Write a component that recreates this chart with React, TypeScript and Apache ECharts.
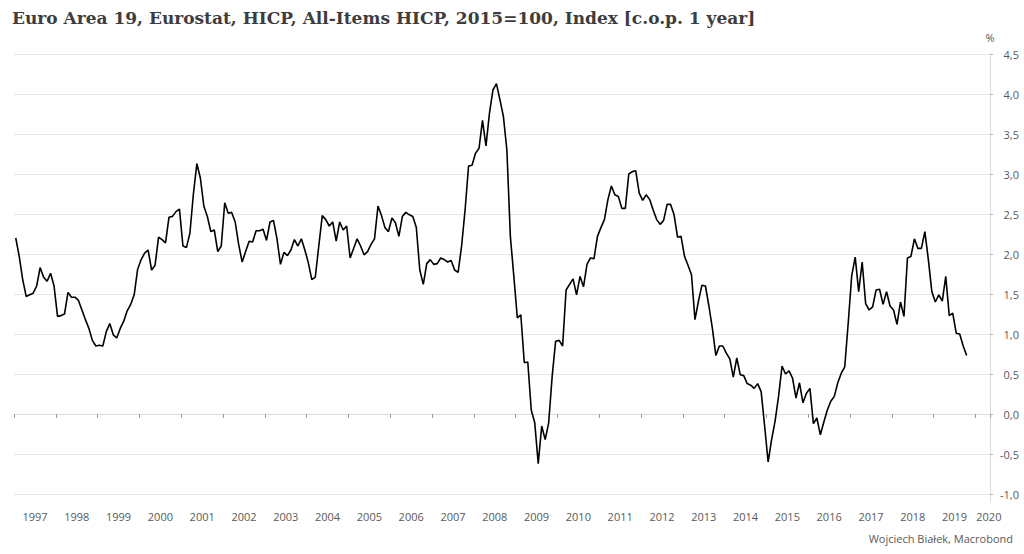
import React, { useEffect, useRef } from "react";
import * as echarts from "echarts";

const TITLE = "Euro Area 19, Eurostat, HICP, All-Items HICP, 2015=100, Index [c.o.p. 1 year]";
const FOOTER = "Wojciech Białek, Macrobond";
const START_YEAR = 1997;

const v1997 = [2.20, 1.97, 1.68, 1.47, 1.49, 1.51, 1.60, 1.83, 1.71, 1.66, 1.76, 1.60];
const v1998 = [1.22, 1.23, 1.25, 1.52, 1.46, 1.46, 1.42, 1.30, 1.18, 1.07, 0.92, 0.85];
const v1999 = [0.86, 0.85, 1.03, 1.13, 0.99, 0.95, 1.07, 1.16, 1.29, 1.37, 1.49, 1.81];
const v2000 = [1.93, 2.01, 2.05, 1.80, 1.86, 2.21, 2.18, 2.14, 2.46, 2.47, 2.53, 2.56];
const v2001 = [2.10, 2.08, 2.26, 2.75, 3.13, 2.95, 2.60, 2.47, 2.28, 2.30, 2.03, 2.10];
const v2002 = [2.64, 2.51, 2.52, 2.40, 2.12, 1.90, 2.03, 2.16, 2.15, 2.29, 2.29, 2.31];
const v2003 = [2.17, 2.40, 2.42, 2.19, 1.87, 2.02, 1.98, 2.05, 2.18, 2.10, 2.19, 2.05];
const v2004 = [1.89, 1.68, 1.71, 2.10, 2.48, 2.43, 2.35, 2.40, 2.16, 2.40, 2.30, 2.35];
const v2005 = [1.95, 2.07, 2.19, 2.10, 1.99, 2.03, 2.12, 2.19, 2.60, 2.48, 2.33, 2.28];
const v2006 = [2.45, 2.39, 2.22, 2.47, 2.52, 2.49, 2.47, 2.33, 1.80, 1.62, 1.88, 1.93];
const v2007 = [1.87, 1.88, 1.95, 1.93, 1.90, 1.92, 1.80, 1.77, 2.10, 2.55, 3.10, 3.11];
const v2008 = [3.26, 3.32, 3.67, 3.35, 3.76, 4.05, 4.13, 3.93, 3.72, 3.30, 2.22, 1.72];
const v2009 = [1.20, 1.24, 0.64, 0.65, 0.05, -0.11, -0.62, -0.15, -0.32, -0.11, 0.47, 0.91];
const v2010 = [0.92, 0.85, 1.55, 1.62, 1.69, 1.49, 1.72, 1.59, 1.87, 1.95, 1.94, 2.22];
const v2011 = [2.33, 2.43, 2.68, 2.85, 2.74, 2.72, 2.57, 2.57, 3.00, 3.03, 3.04, 2.76];
const v2012 = [2.67, 2.74, 2.68, 2.55, 2.43, 2.37, 2.42, 2.62, 2.62, 2.49, 2.21, 2.22];
const v2013 = [1.97, 1.86, 1.74, 1.18, 1.41, 1.61, 1.60, 1.35, 1.07, 0.73, 0.85, 0.85];
const v2014 = [0.76, 0.69, 0.46, 0.70, 0.49, 0.48, 0.38, 0.36, 0.32, 0.38, 0.28, -0.15];
const v2015 = [-0.60, -0.32, -0.09, 0.22, 0.60, 0.50, 0.54, 0.45, 0.20, 0.39, 0.14, 0.26];
const v2016 = [0.32, -0.12, -0.05, -0.26, -0.10, 0.05, 0.16, 0.22, 0.39, 0.51, 0.59, 1.14];
const v2017 = [1.73, 1.96, 1.53, 1.90, 1.38, 1.30, 1.34, 1.55, 1.56, 1.37, 1.53, 1.35];
const v2018 = [1.30, 1.12, 1.40, 1.22, 1.95, 1.97, 2.19, 2.07, 2.07, 2.28, 1.93, 1.53];
const v2019 = [1.40, 1.49, 1.41, 1.72, 1.23, 1.26, 1.01, 1.00, 0.85, 0.73];

const monthly = [
  ...v1997, ...v1998, ...v1999, ...v2000, ...v2001, ...v2002, ...v2003, ...v2004,
  ...v2005, ...v2006, ...v2007, ...v2008, ...v2009, ...v2010, ...v2011, ...v2012,
  ...v2013, ...v2014, ...v2015, ...v2016, ...v2017, ...v2018, ...v2019,
];

const LABEL_FONT = "'Open Sans', 'Noto Sans', sans-serif";

export default function App() {
  const ref = useRef<HTMLDivElement>(null);
  useEffect(() => {
    if (!ref.current) return;
    const chart = echarts.init(ref.current, null, { renderer: "svg" });
    const data = monthly.map((v, i) => [START_YEAR + (i + 0.5) / 12, v]);
    chart.setOption({
      animation: false,
      backgroundColor: "#ffffff",
      title: {
        text: TITLE,
        left: 7,
        top: 4,
        textStyle: {
          fontFamily: "'DejaVu Serif', 'Liberation Serif', serif",
          fontWeight: "bold",
          fontSize: 17,
          color: "#3d3d3d",
        },
      },
      graphic: [
        {
          type: "text",
          right: 11,
          top: 533,
          style: {
            text: FOOTER,
            fill: "#595959",
            font: `11px ${LABEL_FONT}`,
          },
        },
        {
          type: "line",
          shape: { x1: 990.5, y1: 494, x2: 990.5, y2: 503 },
          style: { stroke: "#dcdcdc", lineWidth: 1 },
        },
      ],
      grid: { left: 14, right: 34, top: 54, bottom: 60, containLabel: false },
      xAxis: {
        type: "value",
        min: 1997,
        max: 2020.35,
        interval: 1,
        offset: 9,
        axisLine: { show: true, lineStyle: { color: "#dcdcdc", width: 1 } },
        axisTick: { show: true, length: 4, lineStyle: { color: "#a0a0a0" } },
        splitLine: { show: false },
        axisLabel: {
          margin: 8,
          color: "#595959",
          fontFamily: LABEL_FONT,
          fontSize: 11,
          formatter: (v: number) => {
            if (Math.abs(v - Math.round(v)) > 1e-6) return "";
            return v === 2020 ? `{e|${v}}` : `{a|${v}}`;
          },
          rich: {
            a: { padding: [0, 0, 0, 42], color: "#595959", fontFamily: LABEL_FONT, fontSize: 11 },
            e: { padding: [0, 0, 0, 27], color: "#595959", fontFamily: LABEL_FONT, fontSize: 11 },
          },
        },
      },
      yAxis: {
        type: "value",
        position: "right",
        min: -1,
        max: 4.5,
        interval: 0.5,
        name: "%",
        nameLocation: "end",
        nameGap: 11,
        nameTextStyle: {
          color: "#595959",
          fontFamily: LABEL_FONT,
          fontSize: 11,
          align: "center",
        },
        axisLine: { show: true, lineStyle: { color: "#dcdcdc", width: 1 } },
        axisTick: { show: true, length: 3, lineStyle: { color: "#b0b0b0" } },
        axisLabel: {
          margin: 29,
          align: "right",
          color: "#595959",
          fontFamily: LABEL_FONT,
          fontSize: 11,
          formatter: (v: number) => v.toFixed(1).replace(".", ","),
        },
        splitLine: { show: true, lineStyle: { color: "#e6e6e6", width: 1 } },
      },
      series: [
        {
          type: "line",
          data,
          showSymbol: false,
          symbol: "none",
          lineStyle: { color: "#000000", width: 1.6 },
        },
      ],
    });
    return () => chart.dispose();
  }, []);
  return (
    <div
      ref={ref}
      style={{ position: "fixed", left: 0, top: 0, width: 1024, height: 554, background: "#fff" }}
    />
  );
}
